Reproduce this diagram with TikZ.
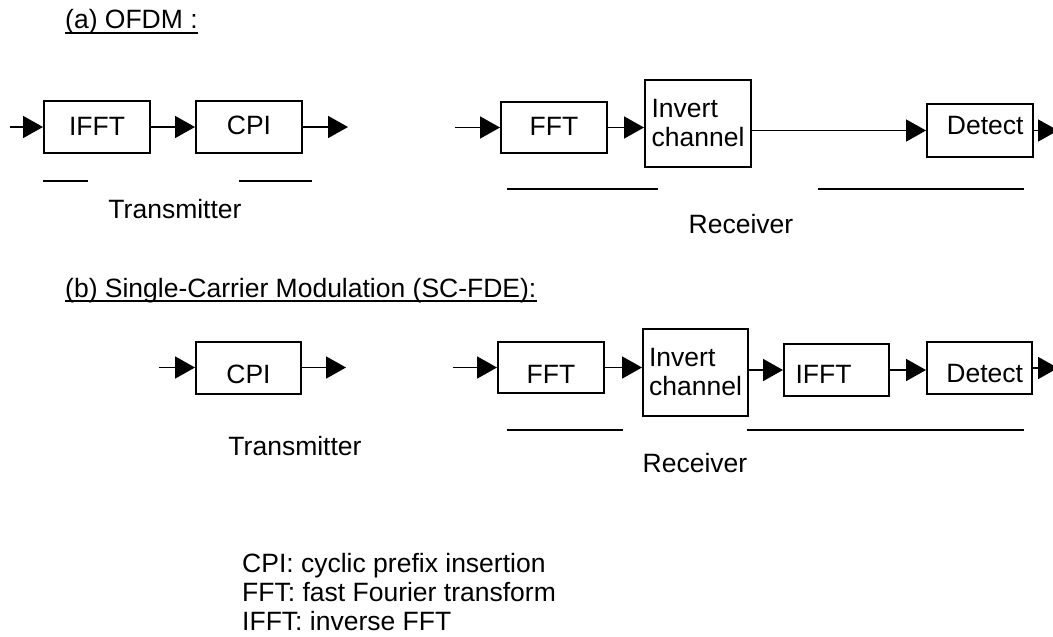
\documentclass[tikz,border=0pt]{standalone}
\usepackage{fontspec}
\setmainfont{Liberation Sans}
\usetikzlibrary{arrows.meta}
\begin{document}
\begin{tikzpicture}[x=1pt,y=-1pt,
  every node/.style={font=\fontsize{26.5}{29}\selectfont, inner sep=0pt},
  blk/.style={draw, line width=2pt, minimum width=106pt, minimum height=52pt},
  conn/.style={line width=1.8pt, -{Triangle[length=20pt,width=22pt]}},
  uline/.style={line width=2pt},
  lbl/.style={anchor=base},
  head/.style={anchor=base west},
]
\useasboundingbox[fill=white] (0,0) rectangle (1053,637);

% ---------- (a) OFDM ----------
\node[head] (ha) at (65,28) {(a) OFDM :};
\draw[uline] ([yshift=-4.5pt]ha.base west) -- ([yshift=-4.5pt]ha.base east);

% transmitter
\node[blk, text height=16pt] (IFFTa) at (97,127) {IFFT};
\node[blk, text height=16pt] (CPIa) at (249,127) {CPI};
\coordinate (ina) at (10,127);
\coordinate (outa) at (348,127);
\draw[conn] (ina) -- (IFFTa);
\draw[conn] (IFFTa) -- (CPIa);
\draw[conn] (CPIa) -- (outa);
\draw[uline] (43,181) -- (88,181);
\draw[uline] (239,181) -- (312,181);
\node[lbl] (txa) at (175,218) {Transmitter};

% receiver
\node[blk, text height=15pt, minimum height=51pt] (FFTa) at (554,127.5) {FFT};
\node[blk, align=left, minimum height=87pt] (Inva) at (698,123.5) {Invert\\channel};
\node[blk, text height=9pt, text width=87pt, align=right, minimum height=53pt] (Deta) at (980,130.5) {Detect};
\coordinate (inra) at (455,127.5);
\coordinate (outra) at (1058,130.5);
\draw[conn] (inra) -- (FFTa);
\draw[conn] (FFTa.east) -- (FFTa.east -| Inva.west);
\draw[conn] (Deta.west -| Inva.east) -- (Deta.west);
\draw[conn] (Deta.east) -- (outra);
\draw[uline] (507,189) -- (658,189);
\draw[uline] (818,189) -- (1024,189);
\node[lbl] (rxa) at (741,233) {Receiver};

% ---------- (b) SC-FDE ----------
\node[head] (hb) at (65,297) {(b) Single-Carrier Modulation (SC-FDE):};
\draw[uline] ([yshift=-4pt]hb.base west) -- ([yshift=-4pt]hb.base east);

% transmitter
\node[blk, text height=33pt, minimum width=105pt] (CPIb) at (248.5,367.5) {CPI};
\coordinate (inb) at (159,367.5);
\coordinate (outb) at (346,367.5);
\draw[conn] (inb) -- (CPIb);
\draw[conn] (CPIb) -- (outb);
\node[lbl] (txb) at (295,455) {Transmitter};

% receiver
\node[blk, text height=31pt, minimum height=51pt] (FFTb) at (551,367.5) {FFT};
\node[blk, align=left, minimum width=105pt, minimum height=87pt] (Invb) at (695.5,372.5) {Invert\\channel};
\node[blk, text height=26pt, text width=82pt, align=left, minimum width=105pt] (IFFTb) at (836.5,370) {IFFT};
\node[blk, text height=30pt, text width=87pt, align=right, minimum width=105pt] (Detb) at (979.5,368) {Detect};
\coordinate (inrb) at (453,367.5);
\coordinate (outrb) at (1058,368);
\draw[conn] (inrb) -- (FFTb);
\draw[conn] (FFTb.east) -- (FFTb.east -| Invb.west);
\draw[conn] (IFFTb.west -| Invb.east) -- (IFFTb.west);
\draw[conn] (IFFTb.east) -- (IFFTb.east -| Detb.west);
\draw[conn] (Detb.east) -- (outrb);
\draw[uline] (507,430) -- (623,430);
\draw[uline] (747,430) -- (1024,430);
\node[lbl] (rxb) at (695,472) {Receiver};

% ---------- legend ----------
\node[head] (leg1) at (242,572) {CPI: cyclic prefix insertion};
\node[head] (leg2) at (242,601) {FFT: fast Fourier transform};
\node[head] (leg3) at (242,630) {IFFT: inverse FFT};
\end{tikzpicture}
\end{document}
